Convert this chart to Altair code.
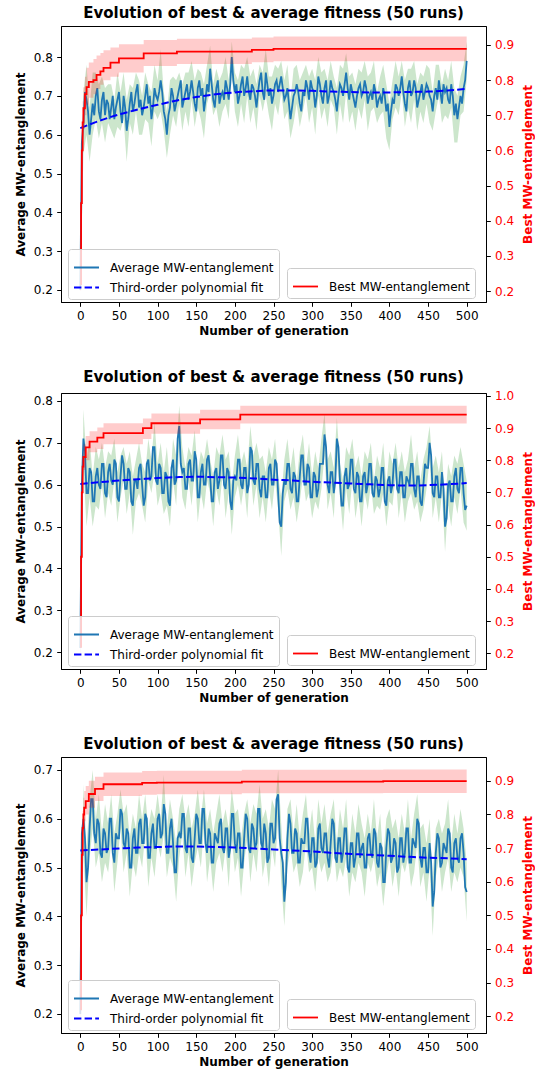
import altair as alt
import pandas as pd

STEP = 4
TITLE = "Evolution of best & average fitness (50 runs)"
AVG_LABEL = "Average MW-entanglement"
FIT_LABEL = "Third-order polynomial fit"
BEST_LABEL = "Best MW-entanglement"
X_TITLE = "Number of generation"
X_TICKS = list(range(0, 501, 50))
FIT_GENS = list(range(0, 501, 25))

# ---------------- Panel 1 ----------------
# average at generations 0, 4, 8, ... 500
p1_avg = [0.20,0.63,0.69,0.60,0.68,0.70,0.66,0.69,0.65,0.68,
          0.67,0.64,0.69,0.66,0.70,0.61,0.68,0.66,0.71,0.67,
          0.65,0.70,0.68,0.64,0.72,0.69,0.74,0.66,0.60,0.67,
          0.70,0.68,0.72,0.67,0.71,0.69,0.74,0.68,0.72,0.70,
          0.66,0.73,0.77,0.69,0.72,0.68,0.71,0.74,0.69,0.80,
          0.71,0.68,0.73,0.70,0.75,0.69,0.72,0.67,0.74,0.71,
          0.76,0.70,0.68,0.73,0.71,0.75,0.69,0.72,0.64,0.70,
          0.73,0.68,0.71,0.74,0.69,0.72,0.67,0.75,0.70,0.72,
          0.68,0.74,0.71,0.66,0.73,0.70,0.76,0.69,0.71,0.67,
          0.72,0.70,0.74,0.68,0.71,0.73,0.67,0.70,0.72,0.66,
          0.62,0.69,0.73,0.70,0.75,0.68,0.72,0.70,0.74,0.67,
          0.71,0.69,0.73,0.70,0.66,0.72,0.74,0.68,0.71,0.69,
          0.73,0.65,0.64,0.70,0.72,0.79]
# average at generations 2, 6, 10, ... 498
p1_mid = [0.58,0.71,0.66,0.64,0.65,0.72,0.64,0.71,0.69,0.64,
          0.70,0.67,0.71,0.63,0.67,0.64,0.71,0.68,0.73,0.69,
          0.67,0.73,0.70,0.67,0.70,0.71,0.71,0.64,0.65,0.72,
          0.66,0.70,0.74,0.69,0.73,0.71,0.71,0.66,0.74,0.72,
          0.69,0.71,0.73,0.67,0.74,0.70,0.69,0.72,0.73,0.74,
          0.73,0.70,0.75,0.72,0.71,0.73,0.70,0.71,0.76,0.69,
          0.73,0.72,0.70,0.74,0.73,0.72,0.70,0.68,0.67,0.71,
          0.71,0.66,0.70,0.72,0.74,0.71,0.70,0.73,0.68,0.74,
          0.70,0.72,0.69,0.70,0.72,0.73,0.72,0.73,0.69,0.70,
          0.73,0.71,0.72,0.70,0.69,0.71,0.69,0.68,0.70,0.68,
          0.66,0.68,0.72,0.72,0.71,0.66,0.74,0.71,0.72,0.69,
          0.73,0.71,0.72,0.69,0.70,0.69,0.71,0.73,0.72,0.68,
          0.70,0.68,0.67,0.68,0.74]
p1_std = [1,8,9,7,8,6,7,6,7,5,
          6,5,7,5,6,8,5,6,5,7,
          5,6,5,7,6,5,8,5,6,7,
          5,6,4,6,5,7,5,6,5,6,
          7,5,6,4,5,6,5,6,5,4,
          5,6,5,7,5,6,5,6,4,5,
          6,5,7,5,6,4,5,6,5,7,
          5,6,5,4,6,5,7,5,6,5,
          6,5,4,6,5,7,5,6,5,6,
          5,6,5,7,5,6,4,5,6,7,
          6,5,6,5,4,6,5,7,5,6,
          5,6,5,7,5,6,4,5,6,5,
          6,7,6,5,6,5]
p1_fit = [0.617,0.636,0.652,0.665,0.677,0.688,0.697,0.704,0.709,0.712,0.714,
          0.714,0.713,0.711,0.710,0.709,0.709,0.710,0.711,0.714,0.718]
p1_best_gen = [0,1,2,3,4,6,8,11,17,21,26,30,39,50,82,125,222,250,500]
p1_best = [0.22,0.45,0.60,0.68,0.72,0.76,0.78,0.795,0.80,0.815,0.825,0.835,0.85,0.862,0.876,0.881,0.886,0.889,0.889]
p1_best_lo = [0.20,0.40,0.54,0.62,0.66,0.70,0.73,0.75,0.76,0.775,0.787,0.80,0.81,0.822,0.84,0.846,0.851,0.854,0.854]
p1_best_hi = [0.24,0.50,0.66,0.74,0.78,0.81,0.835,0.85,0.86,0.87,0.877,0.885,0.893,0.902,0.914,0.918,0.921,0.924,0.924]

# ---------------- Panel 2 ----------------
p2_avg = [0.21,0.71,0.58,0.64,0.56,0.62,0.60,0.65,0.58,0.63,
          0.61,0.66,0.57,0.62,0.65,0.59,0.63,0.55,0.61,0.64,
          0.60,0.57,0.66,0.62,0.69,0.60,0.64,0.58,0.62,0.55,
          0.66,0.61,0.74,0.63,0.59,0.65,0.61,0.68,0.57,0.63,
          0.60,0.66,0.62,0.56,0.64,0.61,0.67,0.59,0.63,0.54,
          0.62,0.66,0.60,0.64,0.58,0.69,0.61,0.65,0.59,0.62,
          0.57,0.64,0.60,0.66,0.58,0.50,0.61,0.65,0.59,0.63,
          0.56,0.62,0.67,0.60,0.64,0.57,0.62,0.59,0.65,0.72,
          0.60,0.63,0.58,0.71,0.61,0.55,0.64,0.60,0.66,0.58,
          0.62,0.56,0.63,0.60,0.65,0.57,0.61,0.59,0.64,0.55,
          0.62,0.60,0.66,0.58,0.63,0.57,0.61,0.65,0.59,0.62,
          0.56,0.60,0.64,0.70,0.58,0.62,0.57,0.63,0.50,0.60,
          0.56,0.62,0.59,0.64,0.58,0.55]
p2_mid = [0.60,0.68,0.58,0.63,0.56,0.64,0.59,0.65,0.57,0.65,
          0.60,0.65,0.56,0.67,0.59,0.64,0.56,0.61,0.59,0.65,
          0.55,0.65,0.61,0.69,0.61,0.65,0.58,0.63,0.56,0.64,
          0.60,0.71,0.65,0.64,0.59,0.66,0.61,0.66,0.57,0.65,
          0.60,0.67,0.56,0.63,0.59,0.67,0.60,0.64,0.56,0.61,
          0.61,0.66,0.59,0.64,0.60,0.68,0.60,0.65,0.57,0.62,
          0.57,0.65,0.60,0.65,0.51,0.58,0.60,0.65,0.58,0.62,
          0.56,0.67,0.60,0.65,0.57,0.63,0.57,0.65,0.65,0.69,
          0.58,0.63,0.61,0.69,0.55,0.62,0.59,0.66,0.59,0.63,
          0.56,0.62,0.58,0.65,0.58,0.62,0.57,0.64,0.56,0.61,
          0.58,0.66,0.59,0.63,0.57,0.62,0.60,0.65,0.57,0.62,
          0.55,0.65,0.64,0.67,0.57,0.62,0.57,0.59,0.52,0.61,
          0.56,0.64,0.58,0.64,0.54]
p2_std = [2,7,8,7,6,7,6,5,6,5,
          6,5,6,5,4,6,5,7,5,6,
          5,6,5,4,6,5,6,5,7,5,
          5,6,5,6,5,4,6,5,6,5,
          6,5,4,6,5,6,5,7,5,6,
          5,6,5,4,6,5,6,5,7,5,
          6,5,6,5,4,7,5,6,5,6,
          5,6,5,4,6,5,6,5,6,5,
          6,5,6,5,4,6,5,7,5,6,
          5,6,5,6,5,4,6,5,6,5,
          6,5,4,6,5,6,5,7,5,6,
          5,6,5,4,6,5,6,5,6,5,
          6,5,6,5,7,6]
p2_fit = [0.602,0.606,0.610,0.613,0.616,0.618,0.619,0.618,0.617,0.615,0.612,
          0.610,0.607,0.605,0.603,0.601,0.599,0.598,0.599,0.601,0.604]
p2_best_gen = [0,1,2,3,4,7,12,22,30,81,92,155,207,500]
p2_best = [0.22,0.50,0.70,0.78,0.81,0.84,0.858,0.87,0.884,0.90,0.915,0.927,0.942,0.942]
p2_best_lo = [0.19,0.46,0.66,0.74,0.77,0.80,0.825,0.835,0.85,0.866,0.882,0.896,0.914,0.914]
p2_best_hi = [0.25,0.54,0.74,0.82,0.85,0.875,0.89,0.902,0.915,0.93,0.945,0.957,0.969,0.969]

# ---------------- Panel 3 ----------------
p3_avg = [0.20,0.60,0.47,0.58,0.64,0.55,0.59,0.52,0.57,0.54,
          0.60,0.51,0.56,0.62,0.55,0.58,0.50,0.56,0.53,0.59,
          0.55,0.61,0.52,0.57,0.54,0.60,0.56,0.63,0.53,0.58,
          0.55,0.49,0.57,0.61,0.54,0.58,0.52,0.56,0.60,0.55,
          0.62,0.53,0.57,0.51,0.56,0.59,0.54,0.58,0.52,0.61,
          0.55,0.57,0.50,0.56,0.60,0.53,0.58,0.55,0.62,0.54,
          0.57,0.52,0.59,0.56,0.65,0.53,0.43,0.56,0.59,0.53,
          0.57,0.51,0.55,0.60,0.53,0.56,0.50,0.58,0.54,0.57,
          0.52,0.55,0.59,0.51,0.56,0.53,0.58,0.49,0.55,0.52,
          0.57,0.54,0.50,0.56,0.53,0.58,0.51,0.55,0.47,0.54,
          0.57,0.52,0.55,0.50,0.56,0.53,0.58,0.51,0.55,0.60,
          0.52,0.54,0.49,0.55,0.42,0.53,0.56,0.51,0.54,0.58,
          0.50,0.55,0.52,0.56,0.53,0.45]
p3_mid = [0.57,0.56,0.50,0.64,0.57,0.60,0.53,0.58,0.53,0.60,
          0.53,0.57,0.56,0.61,0.54,0.57,0.50,0.58,0.53,0.60,
          0.55,0.60,0.52,0.59,0.54,0.61,0.57,0.61,0.53,0.60,
          0.49,0.56,0.56,0.61,0.53,0.58,0.51,0.61,0.55,0.62,
          0.55,0.58,0.51,0.57,0.55,0.60,0.53,0.58,0.54,0.61,
          0.53,0.57,0.50,0.61,0.54,0.59,0.54,0.62,0.55,0.59,
          0.51,0.59,0.55,0.64,0.56,0.51,0.47,0.61,0.53,0.58,
          0.51,0.56,0.55,0.60,0.51,0.56,0.51,0.59,0.53,0.57,
          0.50,0.60,0.52,0.56,0.51,0.58,0.50,0.55,0.50,0.57,
          0.52,0.55,0.50,0.57,0.52,0.57,0.50,0.54,0.47,0.58,
          0.51,0.56,0.49,0.56,0.51,0.58,0.51,0.56,0.54,0.59,
          0.50,0.54,0.49,0.51,0.45,0.57,0.50,0.55,0.53,0.57,
          0.49,0.56,0.51,0.57,0.46]
p3_std = [1,7,7,6,6,5,6,5,6,5,
          5,6,5,4,6,5,6,5,5,6,
          5,4,6,5,6,5,4,6,5,6,
          5,6,5,4,6,5,6,5,6,5,
          4,6,5,6,5,6,5,4,6,5,
          6,5,6,5,4,6,5,6,5,6,
          5,6,5,6,5,6,5,6,5,4,
          6,5,6,5,4,6,5,6,5,6,
          5,6,5,4,6,5,6,5,6,5,
          6,5,6,5,4,6,5,6,5,6,
          5,6,5,6,5,4,6,5,6,5,
          6,5,6,5,6,5,4,6,5,6,
          5,6,5,6,5,6]
p3_fit = [0.535,0.537,0.539,0.541,0.542,0.543,0.543,0.542,0.541,0.539,0.537,
          0.535,0.533,0.530,0.528,0.526,0.524,0.522,0.520,0.519,0.517]
p3_best_gen = [0,1,2,3,4,5,7,11,19,30,80,99,209,392,500]
p3_best = [0.22,0.50,0.68,0.76,0.80,0.82,0.84,0.861,0.876,0.89,0.894,0.895,0.898,0.899,0.899]
p3_best_lo = [0.19,0.45,0.63,0.71,0.75,0.78,0.80,0.82,0.84,0.855,0.859,0.860,0.863,0.864,0.864]
p3_best_hi = [0.25,0.55,0.73,0.81,0.85,0.87,0.885,0.90,0.912,0.925,0.929,0.930,0.933,0.934,0.934]

FONT = "DejaVu Sans"
W, H = 425, 276


def panel(avg, mid, std, fit, bgen, best, blo, bhi, ldom, rdom, lticks, rticks):
    gens = [STEP * i for i in range(len(avg))]
    df_band = pd.DataFrame({
        "gen": gens,
        "lo": [a - s / 100 for a, s in zip(avg, std)],
        "hi": [a + s / 100 for a, s in zip(avg, std)],
    })
    fg, fv = [], []
    for i, v in enumerate(avg):
        fg.append(STEP * i)
        fv.append(v)
        if i < len(mid):
            fg.append(STEP * i + STEP // 2)
            fv.append(mid[i])
    df_avg = pd.DataFrame({"gen": fg, "avg": fv, "series": AVG_LABEL})
    df_fit = pd.DataFrame({"gen": FIT_GENS, "val": fit, "series": FIT_LABEL})
    df_best = pd.DataFrame({"gen": bgen, "best": best, "lo": blo, "hi": bhi, "series2": BEST_LABEL})

    x = alt.X("gen:Q", scale=alt.Scale(domain=[-25, 525], nice=False, zero=False),
              axis=alt.Axis(values=X_TICKS, title=X_TITLE, labelFlush=False, format="d"))
    ls = alt.Scale(domain=ldom, nice=False, zero=False)
    la = alt.Axis(values=lticks, title=AVG_LABEL, format=".1f", titlePadding=5.4)
    rs = alt.Scale(domain=rdom, nice=False, zero=False)
    ra = alt.Axis(orient="right", values=rticks, title=BEST_LABEL, format=".1f",
                  titleColor="red", labelColor="red", titleAngle=270, titleBaseline="top",
                  titlePadding=9)

    leg1 = alt.Legend(title=None, orient="none", legendX=7, legendY=223, symbolType="stroke",
                      symbolSize=625, symbolStrokeWidth=1.8, rowPadding=-6)
    leg2 = alt.Legend(title=None, orient="none", legendX=226, legendY=242, symbolType="stroke",
                      symbolSize=625, symbolStrokeWidth=1.8)

    band = alt.Chart(df_band).mark_area(color="green", opacity=0.2).encode(
        x=x, y=alt.Y("lo:Q", scale=ls, axis=la), y2="hi:Q")
    cs = alt.Scale(domain=[AVG_LABEL, FIT_LABEL], range=["#1f77b4", "#0000ff"])
    ds = alt.Scale(domain=[AVG_LABEL, FIT_LABEL], range=[[1, 0], [7.4, 3.2]])
    avg_line = alt.Chart(df_avg).mark_line(strokeWidth=1.8).encode(
        x=x, y=alt.Y("avg:Q", scale=ls, axis=la),
        color=alt.Color("series:N", scale=cs, legend=leg1),
        strokeDash=alt.StrokeDash("series:N", scale=ds, legend=leg1))
    fit_line = alt.Chart(df_fit).mark_line(strokeWidth=2, interpolate="monotone").encode(
        x=x, y=alt.Y("val:Q", scale=ls, axis=la),
        color=alt.Color("series:N", scale=cs, legend=leg1),
        strokeDash=alt.StrokeDash("series:N", scale=ds, legend=leg1))
    left = alt.layer(band, avg_line, fit_line)

    rband = alt.Chart(df_best).mark_area(color="red", opacity=0.2, interpolate="step-after").encode(
        x=x, y=alt.Y("lo:Q", scale=rs, axis=ra), y2="hi:Q")
    rline = alt.Chart(df_best).mark_line(strokeWidth=1.8, interpolate="step-after").encode(
        x=x, y=alt.Y("best:Q", scale=rs, axis=ra),
        stroke=alt.Stroke("series2:N", scale=alt.Scale(domain=[BEST_LABEL], range=["red"]), legend=leg2))
    right = alt.layer(rband, rline)

    return alt.layer(left, right).resolve_scale(y="independent").properties(
        width=W, height=H, title=alt.TitleParams(TITLE, frame="group", anchor="middle"))


t1 = [0.2, 0.3, 0.4, 0.5, 0.6, 0.7, 0.8]
t2 = [0.2, 0.3, 0.4, 0.5, 0.6, 0.7, 0.8, 0.9]
t3 = [0.2, 0.3, 0.4, 0.5, 0.6, 0.7, 0.8, 0.9, 1.0]

c1 = panel(p1_avg, p1_mid, p1_std, p1_fit, p1_best_gen, p1_best, p1_best_lo, p1_best_hi,
           [0.169, 0.88], [0.169, 0.954], t1, t2)
c2 = panel(p2_avg, p2_mid, p2_std, p2_fit, p2_best_gen, p2_best, p2_best_lo, p2_best_hi,
           [0.160, 0.819], [0.151, 1.009], t1, t3)
c3 = panel(p3_avg, p3_mid, p3_std, p3_fit, p3_best_gen, p3_best, p3_best_lo, p3_best_hi,
           [0.161, 0.7265], [0.150, 0.971], [0.2, 0.3, 0.4, 0.5, 0.6, 0.7], t2)

chart = alt.vconcat(c1, c2, c3, spacing=31).resolve_scale(
    color="independent", strokeDash="independent", stroke="independent"
).properties(
    padding={"left": 14, "top": 5, "right": 0, "bottom": 0}
).configure_view(stroke="black", strokeWidth=1).configure_axis(
    labelFont=FONT, labelFontSize=12, titleFont=FONT, titleFontSize=12, titleFontWeight="bold",
    tickColor="black", domainColor="black", tickSize=4.3, tickWidth=1, domainWidth=1,
    grid=False, labelColor="black", titleColor="black", labelPadding=4.3
).configure_title(font=FONT, fontSize=15, fontWeight="bold", offset=5, color="black").configure_legend(
    labelFont=FONT, labelFontSize=12, labelColor="black", strokeColor="#cccccc",
    fillColor="rgba(255,255,255,0.8)", padding=5, cornerRadius=3, labelOffset=10, labelLimit=300
)

chart.save("out.html", embed_options={"renderer": "svg", "actions": False})
